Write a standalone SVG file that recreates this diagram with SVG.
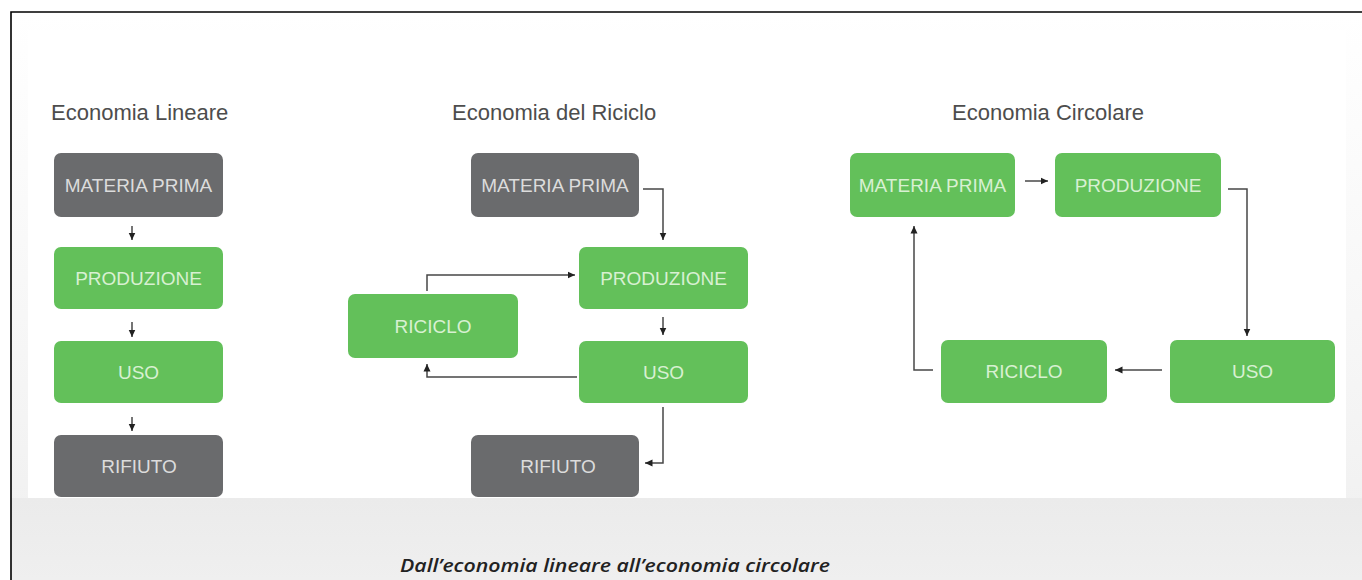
<svg xmlns="http://www.w3.org/2000/svg" width="1362" height="580" viewBox="0 0 1362 580">
  <defs>
    <style>
      .gray { fill: #6a6b6d; }
      .green { fill: #63c05a; }
      .lbl { font-family: "Liberation Sans", Arial, sans-serif; font-size: 19px; text-anchor: middle; }
      .lg { fill: #dcdcdc; }
      .lgr { fill: #d8f0d2; }
      .head { font-family: "Liberation Sans", Arial, sans-serif; font-size: 22px; fill: #4d4d4d; }
      .conn { fill: none; stroke: #474747; stroke-width: 1.5; marker-end: url(#arr); }
    </style>
    <marker id="arr" markerUnits="userSpaceOnUse" markerWidth="9" markerHeight="9" refX="7.5" refY="4.5" orient="auto">
      <path d="M0,1 L7.5,4.5 L0,8 z" fill="#222222"/>
    </marker>
    <linearGradient id="surround" x1="0" y1="0" x2="0" y2="1">
      <stop offset="0" stop-color="#ffffff"/>
      <stop offset="0.6" stop-color="#f6f6f6"/>
      <stop offset="1" stop-color="#efefef"/>
    </linearGradient>
    <linearGradient id="bottomGrad" x1="0" y1="0" x2="0" y2="1">
      <stop offset="0" stop-color="#ebebeb"/>
      <stop offset="1" stop-color="#efefef"/>
    </linearGradient>
  </defs>

  <!-- background -->
  <rect x="0" y="0" width="1362" height="580" fill="#ffffff"/>
  <rect x="11" y="12" width="1351" height="568" fill="url(#surround)"/>
  <rect x="28" y="30" width="1318" height="468" fill="#ffffff"/>
  <rect x="11" y="498" width="1351" height="82" fill="url(#bottomGrad)"/>
  <path d="M11,580 V12 H1362" fill="none" stroke="#000000" stroke-width="1.6"/>

  <!-- headings -->
  <text class="head" x="51" y="120">Economia Lineare</text>
  <text class="head" x="452" y="120">Economia del Riciclo</text>
  <text class="head" x="1048" y="120" text-anchor="middle">Economia Circolare</text>

  <!-- Economia Lineare -->
  <g id="lin-materia">
    <rect class="gray" x="54" y="153" width="169" height="64" rx="7"/>
    <text class="lbl lg" x="138.5" y="191.5">MATERIA PRIMA</text>
  </g>
  <g id="lin-produzione">
    <rect class="green" x="54" y="247" width="169" height="62" rx="7"/>
    <text class="lbl lgr" x="138.5" y="284.5">PRODUZIONE</text>
  </g>
  <g id="lin-uso">
    <rect class="green" x="54" y="341" width="169" height="62" rx="7"/>
    <text class="lbl lgr" x="138.5" y="378.5">USO</text>
  </g>
  <g id="lin-rifiuto">
    <rect class="gray" x="54" y="435" width="169" height="62" rx="7"/>
    <text class="lbl lg" x="139" y="472.5">RIFIUTO</text>
  </g>

  <!-- Economia del Riciclo -->
  <g id="ric-materia">
    <rect class="gray" x="471" y="153" width="168" height="64" rx="7"/>
    <text class="lbl lg" x="555" y="191.5">MATERIA PRIMA</text>
  </g>
  <g id="ric-produzione">
    <rect class="green" x="579" y="247" width="169" height="62" rx="7"/>
    <text class="lbl lgr" x="663.5" y="284.5">PRODUZIONE</text>
  </g>
  <g id="ric-riciclo">
    <rect class="green" x="348" y="294" width="170" height="64" rx="7"/>
    <text class="lbl lgr" x="433" y="332.5">RICICLO</text>
  </g>
  <g id="ric-uso">
    <rect class="green" x="579" y="341" width="169" height="62" rx="7"/>
    <text class="lbl lgr" x="663.5" y="378.5">USO</text>
  </g>
  <g id="ric-rifiuto">
    <rect class="gray" x="471" y="435" width="168" height="62" rx="7"/>
    <text class="lbl lg" x="558" y="472.5">RIFIUTO</text>
  </g>

  <!-- Economia Circolare -->
  <g id="circ-materia">
    <rect class="green" x="850" y="153" width="165" height="64" rx="7"/>
    <text class="lbl lgr" x="932.5" y="191.5">MATERIA PRIMA</text>
  </g>
  <g id="circ-produzione">
    <rect class="green" x="1055" y="153" width="166" height="64" rx="7"/>
    <text class="lbl lgr" x="1138" y="191.5">PRODUZIONE</text>
  </g>
  <g id="circ-uso">
    <rect class="green" x="1170" y="340" width="165" height="63" rx="7"/>
    <text class="lbl lgr" x="1252.5" y="378">USO</text>
  </g>
  <g id="circ-riciclo">
    <rect class="green" x="941" y="340" width="166" height="63" rx="7"/>
    <text class="lbl lgr" x="1024" y="378">RICICLO</text>
  </g>

  <!-- connectors -->
  <g id="connectors">
    <path class="conn" d="M132,226 V240"/>
    <path class="conn" d="M132,322 V337"/>
    <path class="conn" d="M132,417 V431"/>

    <path class="conn" d="M643,189 H663 V240"/>
    <path class="conn" d="M663,317 V335"/>
    <path class="conn" d="M427,291 V275 H575"/>
    <path class="conn" d="M577,377 H427 V364"/>
    <path class="conn" d="M663,407 V463 H645"/>

    <path class="conn" d="M1025,181 H1048"/>
    <path class="conn" d="M1228,189 H1247 V336"/>
    <path class="conn" d="M1162,370 H1115"/>
    <path class="conn" d="M933,370 H914 V226"/>
  </g>

  <!-- caption -->
  <text x="400" y="572" font-family="'Open Sans', 'Liberation Sans', sans-serif" font-style="italic" font-weight="600" font-size="18" fill="#222222" textLength="430" lengthAdjust="spacingAndGlyphs">Dall’economia lineare all’economia circolare</text>
</svg>
